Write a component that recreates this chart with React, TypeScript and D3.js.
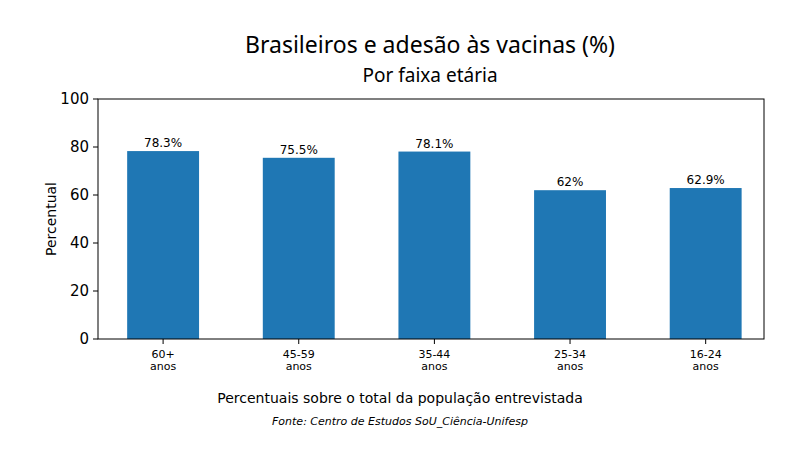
import * as d3 from 'd3';

const categories = ['60+\nanos', '45-59\nanos', '35-44\nanos', '25-34\nanos', '16-24\nanos'];
const values = [78.3, 75.5, 78.1, 62, 62.9];
const valueLabels = ['78.3%', '75.5%', '78.1%', '62%', '62.9%'];
const yTicks = [0, 20, 40, 60, 80, 100];

export default function App() {
  const left = 98, right = 764, top = 99, bottom = 339;
  const x = d3.scaleLinear().domain([-0.48, 4.43]).range([left, right]);
  const y = d3.scaleLinear().domain([0, 100]).range([bottom, top]);
  const bw = x(0.265) - x(0);
  const font = 'DejaVu Sans, sans-serif';
  return (
    <svg width={800} height={450} style={{ position: 'absolute', left: 0, top: 0, background: '#fff' }} fontFamily={font}>
      <text x={430} y={53} textAnchor="middle" fontSize={23} fontFamily="Noto Sans, sans-serif">Brasileiros e adesão às vacinas (%)</text>
      <text x={430} y={82} textAnchor="middle" fontSize={19} fontFamily="Noto Sans, sans-serif">Por faixa etária</text>
      {values.map((v, i) => (
        <g key={i}>
          <rect x={x(i) - bw} y={y(v)} width={bw * 2} height={bottom - y(v)} fill="#1f77b4" />
          <text x={x(i)} y={y(v) - 4} textAnchor="middle" fontSize={12}>{valueLabels[i]}</text>
          <line x1={x(i)} x2={x(i)} y1={bottom} y2={bottom + 5} stroke="#000" />
          {categories[i].split('\n').map((t, j) => (
            <text key={j} x={x(i)} y={bottom + 19 + j * 12} textAnchor="middle" fontSize={11}>{t}</text>
          ))}
        </g>
      ))}
      {yTicks.map(t => (
        <g key={t}>
          <line x1={left - 5} x2={left} y1={y(t)} y2={y(t)} stroke="#000" />
          <text x={left - 9} y={y(t) + 5} textAnchor="end" fontSize={15}>{t}</text>
        </g>
      ))}
      <rect x={left} y={top} width={right - left} height={bottom - top} fill="none" stroke="#000" strokeWidth={1} />
      <text transform={`translate(56,${(top + bottom) / 2}) rotate(-90)`} textAnchor="middle" fontSize={14}>Percentual</text>
      <text x={400} y={403} textAnchor="middle" fontSize={14}>Percentuais sobre o total da população entrevistada</text>
      <text x={400} y={425} textAnchor="middle" fontSize={11} fontStyle="italic">Fonte: Centro de Estudos SoU_Ciência-Unifesp</text>
    </svg>
  );
}
